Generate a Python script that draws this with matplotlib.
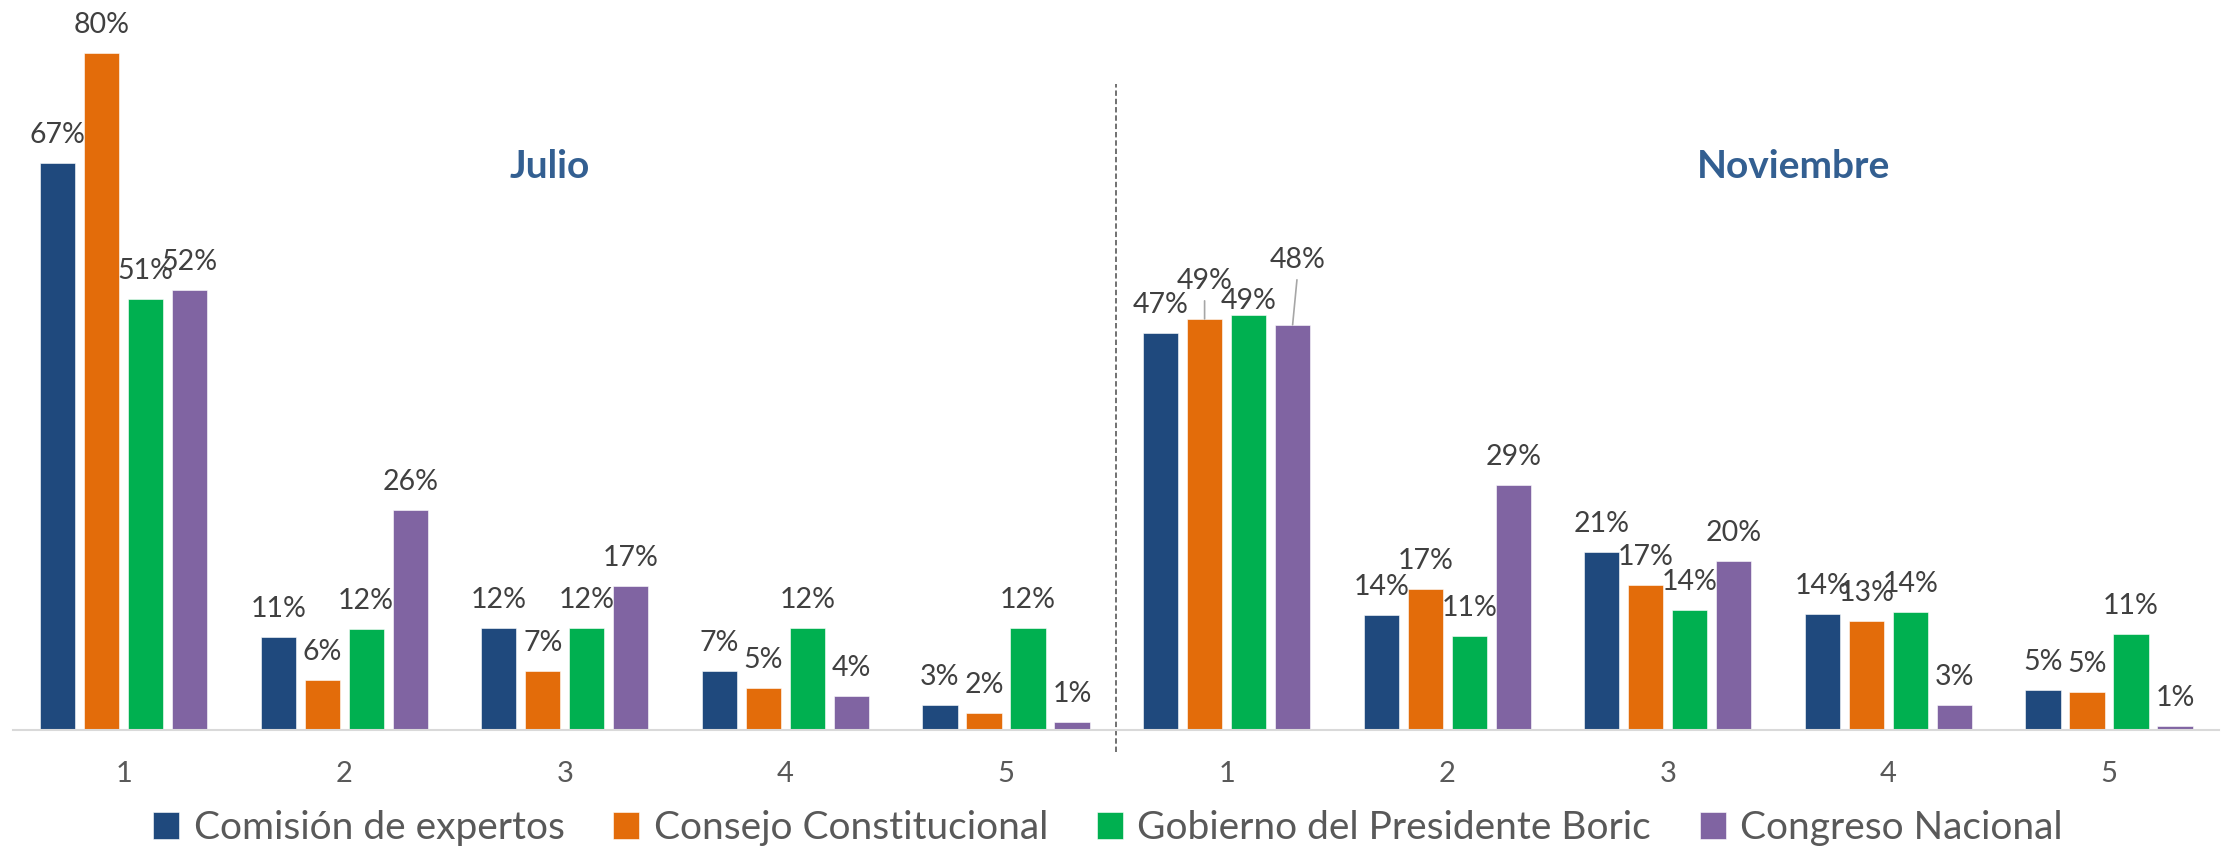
import numpy as np
import matplotlib
matplotlib.use("Agg")
import matplotlib.pyplot as plt

plt.rcParams["font.family"] = ["Lato", "DejaVu Sans"]

categories = ["1", "2", "3", "4", "5", "1", "2", "3", "4", "5"]
series = ["Comisión de expertos", "Consejo Constitucional",
          "Gobierno del Presidente Boric", "Congreso Nacional"]
colors = ["#1F497D", "#E36C0A", "#00B050", "#8064A2"]

# bar heights (Julio 1-5, then Noviembre 1-5)
comision = [67, 11, 12, 7, 3, 46.9, 13.6, 21.0, 13.7, 4.7]
consejo = [80, 5.9, 7, 5, 2, 48.6, 16.7, 17.1, 12.9, 4.5]
gobierno = [51, 11.9, 12, 12, 12, 49.1, 11.1, 14.2, 14.0, 11.3]
congreso = [52, 26, 17, 4, 0.9, 47.9, 29, 20, 2.96, 0.5]
values = [comision, consejo, gobierno, congreso]

# printed labels
comision_lbl = [67, 11, 12, 7, 3, 47, 14, 21, 14, 5]
consejo_lbl = [80, 6, 7, 5, 2, 49, 17, 17, 13, 5]
gobierno_lbl = [51, 12, 12, 12, 12, 49, 11, 14, 14, 11]
congreso_lbl = [52, 26, 17, 4, 1, 48, 29, 20, 3, 1]
labels = [comision_lbl, consejo_lbl, gobierno_lbl, congreso_lbl]

periods = ["Julio", "Noviembre"]

W, H = 2227, 849
fig = plt.figure(figsize=(W / 100, H / 100), dpi=100)
ax = fig.add_axes([13.3 / W, 1 - 730 / H, 2206 / W, 719 / H])

x = np.arange(len(categories))
pitch = 0.1995
width = 0.159
for i, (vals, lbls) in enumerate(zip(values, labels)):
    xs = x + (i - 1.5) * pitch
    ax.bar(xs, vals, width, color=colors[i], edgecolor="white", linewidth=0.4,
           label=series[i], zorder=2)
    for j, (xx, v, l) in enumerate(zip(xs, vals, lbls)):
        dx, dy, leader = 0, 14.4, False
        if j == 5 and i == 1:
            dy, leader = 21.6, True
        if j == 5 and i == 3:
            dx, dy, leader = 3.6, 41, True
        if j == 5 and i == 2:
            dy = 4.3
        kw = {}
        if leader:
            kw["arrowprops"] = dict(arrowstyle="-", color="#A6A6A6", lw=1.2,
                                    shrinkA=3, shrinkB=0, relpos=(0.5, 0))
        ax.annotate(f"{l}%", (xx, v), xytext=(dx, dy), textcoords="offset points",
                    ha="center", va="baseline", fontsize=20.5, color="#404040", **kw)

ax.set_xlim(-0.5, len(categories) - 0.5)
ax.set_ylim(0, 85)
ax.set_xticks(x)
ax.set_xticklabels(categories, fontsize=21, color="#595959")
ax.tick_params(axis="x", length=0, pad=22)
ax.set_yticks([])
for s in ["top", "right", "left"]:
    ax.spines[s].set_visible(False)
ax.spines["bottom"].set_color("#D9D9D9")
ax.spines["bottom"].set_linewidth(1.5)
ax.patch.set_visible(False)

# separator between the two periods
ax.axvline(4.5, ymin=-0.0306, ymax=0.8985, color="#666666", lw=1.3,
           linestyle=(0, (3, 1.6)), clip_on=False)

fig.text(550 / W, 1 - 166 / H, periods[0], ha="center", va="center",
         fontsize=28, fontweight="bold", color="#335F91")
fig.text(1794 / W, 1 - 166 / H, periods[1], ha="center", va="center",
         fontsize=28, fontweight="bold", color="#335F91")

leg = fig.legend(loc="center", bbox_to_anchor=(1108 / W, 1 - 828 / H), ncol=4,
                 frameon=False, fontsize=28, handlelength=0.67, handleheight=0.67,
                 handletextpad=0.37, columnspacing=1.25, borderpad=0)
for t in leg.get_texts():
    t.set_color("#595959")

fig.savefig("out.png", dpi=100)
